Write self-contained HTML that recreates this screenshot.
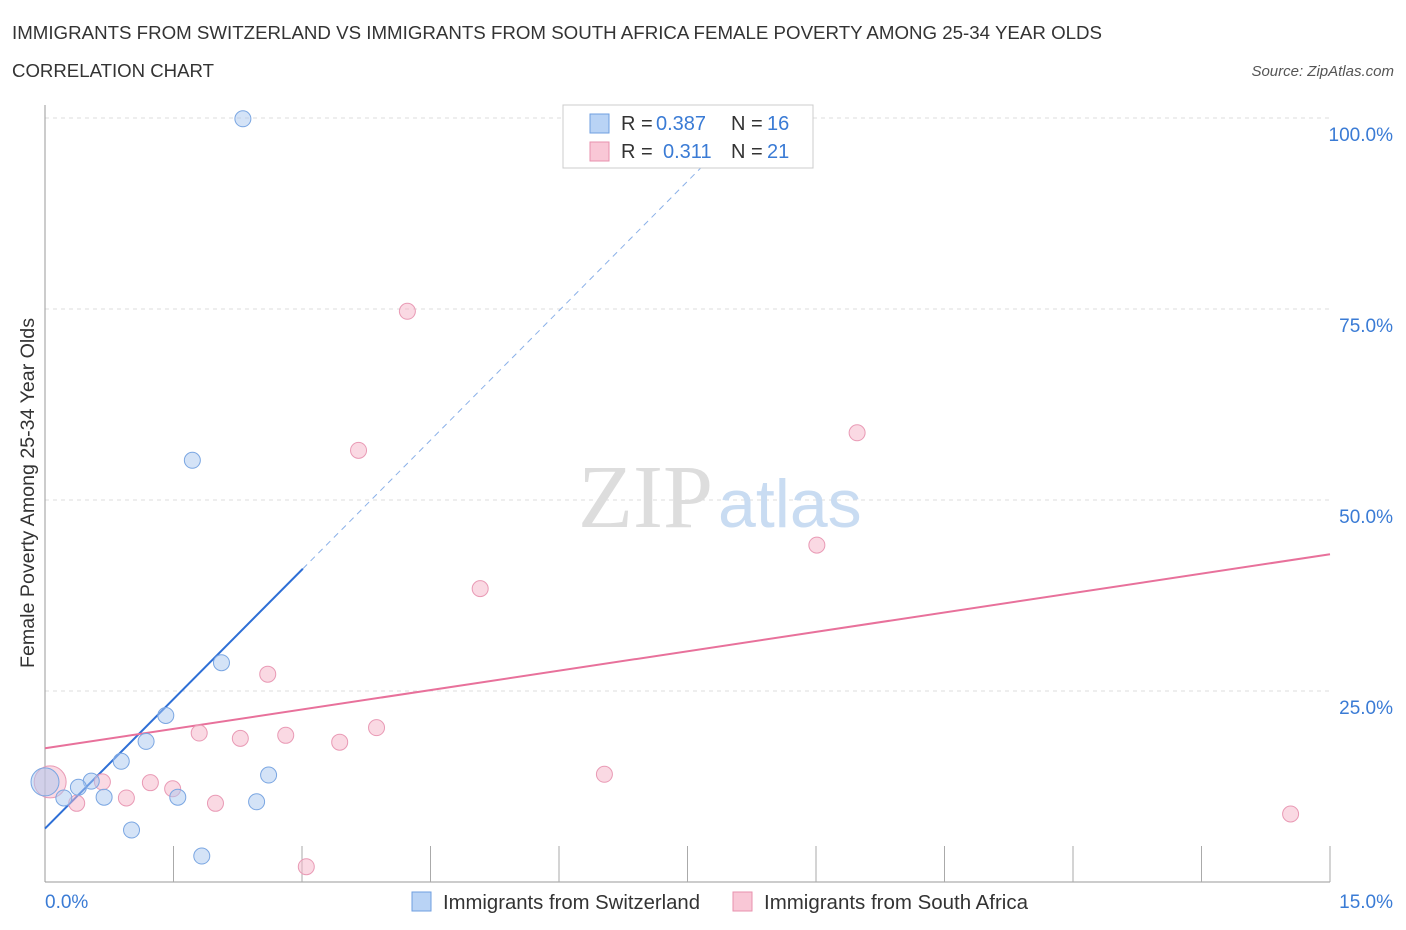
<!DOCTYPE html>
<html><head><meta charset="utf-8"><style>
body{margin:0;background:#fff;font-family:"Liberation Sans",sans-serif;}
svg{display:block}
</style></head><body>
<svg width="1406" height="930" xmlns="http://www.w3.org/2000/svg">
<text x="12" y="39" font-size="18" fill="#333" textLength="1090" lengthAdjust="spacingAndGlyphs">IMMIGRANTS FROM SWITZERLAND VS IMMIGRANTS FROM SOUTH AFRICA FEMALE POVERTY AMONG 25-34 YEAR OLDS</text>
<text x="12" y="77" font-size="18" fill="#333" textLength="202" lengthAdjust="spacingAndGlyphs">CORRELATION CHART</text>
<text x="1394" y="76" font-size="15" fill="#555" font-style="italic" text-anchor="end">Source: ZipAtlas.com</text>
<g id="grid"></g>
<text x="713" y="527" font-size="90" fill="#ddd" text-anchor="end" font-family="Liberation Serif">ZIP</text>
<text x="718" y="527" font-size="68" fill="#c9dcf2">atlas</text>
<line x1="45" y1="105" x2="45" y2="882" stroke="#999"/>
<line x1="45" y1="882" x2="1330" y2="882" stroke="#999"/>
<g id="ticks"></g>
<text x="34" y="493" font-size="19" fill="#333" text-anchor="middle" textLength="350" lengthAdjust="spacingAndGlyphs" transform="rotate(-90 34 493)">Female Poverty Among 25-34 Year Olds</text>
<text x="45" y="908" font-size="19" fill="#3a7bd5">0.0%</text>
<text x="1393" y="908" font-size="19" fill="#3a7bd5" text-anchor="end">15.0%</text>
<g id="lines"></g>
<g id="points"></g>
<g>
<rect x="563" y="105" width="250" height="63" fill="#fff" stroke="#ccc"/>
<rect x="590" y="114" width="19" height="19" fill="#b9d3f5" stroke="#6f9fe0"/>
<text x="621" y="130" font-size="20" fill="#333">R =</text>
<text x="656" y="130" font-size="20" fill="#3a7bd5">0.387</text>
<text x="731" y="130" font-size="20" fill="#333">N =</text>
<text x="767" y="130" font-size="20" fill="#3a7bd5">16</text>
<rect x="590" y="142" width="19" height="19" fill="#f9c7d6" stroke="#e892ae"/>
<text x="621" y="158" font-size="20" fill="#333">R =</text>
<text x="663" y="158" font-size="20" fill="#3a7bd5">0.311</text>
<text x="731" y="158" font-size="20" fill="#333">N =</text>
<text x="767" y="158" font-size="20" fill="#3a7bd5">21</text>
</g>
<g>
<rect x="412" y="892" width="19" height="19" fill="#b9d3f5" stroke="#6f9fe0"/>
<text x="443" y="909" font-size="20" fill="#333" textLength="257" lengthAdjust="spacingAndGlyphs">Immigrants from Switzerland</text>
<rect x="733" y="892" width="19" height="19" fill="#f9c7d6" stroke="#e892ae"/>
<text x="764" y="909" font-size="20" fill="#333" textLength="264" lengthAdjust="spacingAndGlyphs">Immigrants from South Africa</text>
</g>
</svg>
<script>
const yTicks=[25,50,75,100];
const yTickLabels=["25.0%","50.0%","75.0%","100.0%"];
const xTicks=[1.5,3,4.5,6,7.5,9,10.5,12,13.5,15];
const swissX=[2.31,1.72,2.06,1.41,1.18,0.89,0.54,0.39,0.22,0.69,1.55,2.47,2.61,1.01,1.83,0.0];
const swissY=[99.9,55.2,28.7,21.8,18.4,15.8,13.2,12.4,11.0,11.1,11.1,10.5,14.0,6.8,3.4,13.1];
const swissSize=[8,8,8,8,8,8,8,8,8,8,8,8,8,8,8,14];
const saX=[4.23,3.66,9.48,9.01,5.08,2.60,3.87,2.81,2.28,1.80,3.44,6.53,1.23,1.49,0.95,0.67,1.99,0.37,3.05,14.54,0.06];
const saY=[74.7,56.5,58.8,44.1,38.4,27.2,20.2,19.2,18.8,19.5,18.3,14.1,13.0,12.2,11.0,13.1,10.3,10.3,2.0,8.9,13.1];
const saSize=[8,8,8,8,8,8,8,8,8,8,8,8,8,8,8,8,8,8,8,8,16];
const swissFit=[7.0,41.0];
const saFit=[17.5,42.9];
const NS="http://www.w3.org/2000/svg";
const X=v=>45+v/15*1285, Y=v=>882-v/25*191;
function mk(t,a,p){const e=document.createElementNS(NS,t);for(const k in a)e.setAttribute(k,a[k]);document.getElementById(p).appendChild(e);return e;}
yTicks.forEach((t,i)=>{
 const l=mk('line',{x1:45,x2:1330,y1:Y(t),y2:Y(t),stroke:'#ddd','stroke-dasharray':'4,4'},'grid');
 
 
 const tx=mk('text',{x:1393,y:Y(t)+23,'font-size':19,fill:'#3a7bd5','text-anchor':'end'},'grid');
 tx.textContent=yTickLabels[i];
 
 
});
xTicks.forEach(t=>{
 const l=mk('line',{x1:X(t),x2:X(t),y1:846,y2:882,stroke:'#aaa'},'ticks');
 
 
});
const bx1=3.01;
let l1=mk('line',{x1:X(0),y1:Y(swissFit[0]),x2:X(bx1),y2:Y(swissFit[1]),stroke:'#2e6fd6','stroke-width':2},'lines');


const slope=(swissFit[1]-swissFit[0])/bx1, bx2=(100-swissFit[0])/slope;
let l2=mk('line',{x1:X(bx1),y1:Y(swissFit[1]),x2:X(bx2),y2:Y(100),stroke:'#8ab0e8','stroke-width':1,'stroke-dasharray':'6,5'},'lines');


let l3=mk('line',{x1:X(0),y1:Y(saFit[0]),x2:X(15),y2:Y(saFit[1]),stroke:'#e8719b','stroke-width':2},'lines');


saX.forEach((v,i)=>{
 const c=mk('circle',{cx:X(v),cy:Y(saY[i]),r:saSize[i],fill:'rgba(246,180,200,0.5)',stroke:'#e99ab5'},'points');
 
 
});
swissX.forEach((v,i)=>{
 const c=mk('circle',{cx:X(v),cy:Y(swissY[i]),r:swissSize[i],fill:'rgba(170,200,240,0.5)',stroke:'#7aa6e2'},'points');
 
 
});
</script>
</body></html>
